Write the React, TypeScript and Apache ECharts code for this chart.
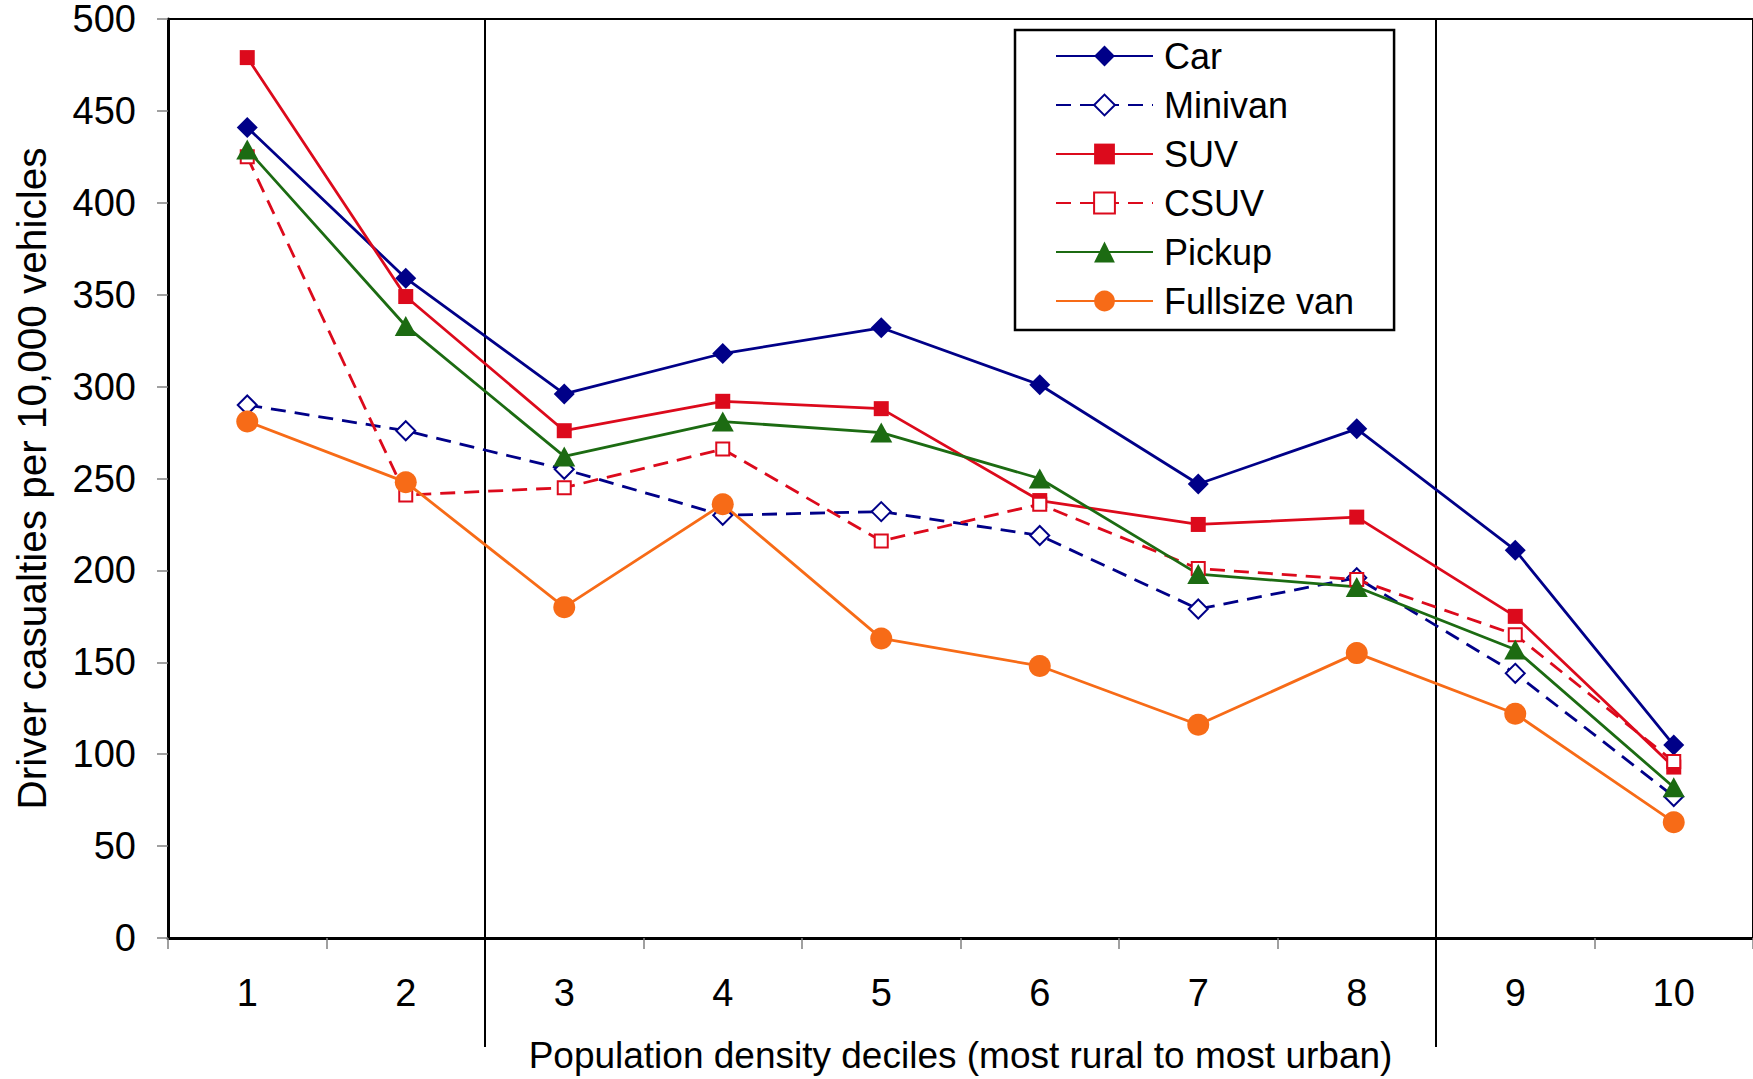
import React, { useEffect, useRef } from "react";
import * as echarts from "echarts";

const deciles = ["1", "2", "3", "4", "5", "6", "7", "8", "9", "10"];
const carValues = [441, 359, 296, 318, 332, 301, 247, 277, 211, 105];
const minivanValues = [290, 276, 255, 230, 232, 219, 179, 196, 144, 77];
const suvValues = [479, 349, 276, 292, 288, 238, 225, 229, 175, 93];
const csuvValues = [425, 241, 245, 266, 216, 236, 201, 195, 165, 96];
const pickupValues = [429, 333, 262, 281, 275, 250, 198, 191, 157, 82];
const vanValues = [281, 248, 180, 236, 163, 148, 116, 155, 122, 63];
const dividerAfter = [1, 7]; // boundaries after decile 2 and decile 8 (indices)

const FONT = "'Liberation Sans', Arial, sans-serif";
const NAVY = "#000088";
const RED = "#dc0a1c";
const GREEN = "#1c6b12";
const ORANGE = "#f76b17";
const DASH = [15, 9];

export default function App() {
  const ref = useRef<HTMLDivElement>(null);

  useEffect(() => {
    if (!ref.current) return;
    const chart = echarts.init(ref.current, undefined, { renderer: "svg" });

    const mk = (
      name: string,
      data: number[],
      color: string,
      symbol: string,
      symbolSize: number | number[],
      dashed: boolean,
      empty: boolean
    ) => ({
      name,
      type: "line",
      data,
      symbol,
      symbolSize,
      showAllSymbol: true,
      lineStyle: { color, width: 2.8, type: dashed ? DASH : "solid" },
      itemStyle: empty
        ? { color, borderColor: color, borderWidth: 2.5 }
        : { color, borderWidth: 0 },
      emphasis: { disabled: true },
    });

    chart.setOption({
      animation: false,
      backgroundColor: "#ffffff",
      textStyle: { fontFamily: FONT },
      grid: {
        left: 168,
        top: 16,
        width: 1588,
        height: 922,
        show: true,
        borderColor: "#000",
        borderWidth: 2,
        backgroundColor: "transparent",
      },
      legend: {
        orient: "vertical",
        left: 1015,
        top: 30,
        padding: [8, 40, 11, 40],
        itemWidth: 97,
        itemHeight: 26,
        itemGap: 13,
        borderColor: "#000",
        borderWidth: 2.5,
        backgroundColor: "#fff",
        textStyle: {
          fontSize: 36,
          color: "#000",
          fontFamily: FONT,
          lineHeight: 36,
          padding: [0, 0, 0, 6],
        },
        data: ["Car", "Minivan", "SUV", "CSUV", "Pickup", "Fullsize van"],
      },
      xAxis: {
        type: "category",
        data: deciles,
        boundaryGap: true,
        name: "Population density deciles (most rural to most urban)",
        nameLocation: "middle",
        nameGap: 99,
        nameTextStyle: { fontSize: 37, color: "#000", fontFamily: FONT },
        axisLine: { show: true, lineStyle: { color: "#000", width: 3 } },
        axisTick: { show: true, interval: 0, length: 11, lineStyle: { color: "#808080", width: 1.5 } },
        axisLabel: { fontSize: 38, color: "#000", margin: 36, fontFamily: FONT, interval: 0 },
        splitLine: { show: false },
      },
      yAxis: {
        type: "value",
        min: 0,
        max: 500,
        interval: 50,
        name: "Driver casualties per 10,000 vehicles",
        nameLocation: "middle",
        nameRotate: 90,
        nameGap: 116,
        nameTextStyle: { fontSize: 40.5, color: "#000", fontFamily: FONT },
        axisLine: { show: true, lineStyle: { color: "#000", width: 3 } },
        axisTick: { show: true, length: 11, lineStyle: { color: "#808080", width: 1.5 } },
        axisLabel: { fontSize: 38, color: "#000", margin: 32, fontFamily: FONT },
        splitLine: { show: false },
      },
      series: [
        mk("Car", carValues, NAVY, "diamond", 21, false, false),
        mk("Minivan", minivanValues, NAVY, "emptyDiamond", 19, true, true),
        mk("SUV", suvValues, RED, "rect", 15, false, false),
        mk("CSUV", csuvValues, RED, "emptyRect", 13, true, true),
        mk("Pickup", pickupValues, GREEN, "triangle", [22, 20], false, false),
        mk("Fullsize van", vanValues, ORANGE, "circle", 22, false, false),
      ],
    });

    const yTop = chart.convertToPixel({ yAxisIndex: 0 }, 500) as number;
    const yZero = chart.convertToPixel({ yAxisIndex: 0 }, 0) as number;
    const elements = dividerAfter.map((i) => {
      const a = chart.convertToPixel({ xAxisIndex: 0 }, i) as number;
      const b = chart.convertToPixel({ xAxisIndex: 0 }, i + 1) as number;
      const x = (a + b) / 2;
      return {
        type: "line",
        shape: { x1: x, y1: yTop, x2: x, y2: yZero + 109 },
        style: { stroke: "#000", lineWidth: 2 },
        z: 1,
        silent: true,
      };
    });
    chart.setOption({ graphic: { elements } });

    return () => chart.dispose();
  }, []);

  return (
    <div
      ref={ref}
      style={{ position: "absolute", left: 0, top: 0, width: 1753, height: 1079, background: "#fff" }}
    />
  );
}
